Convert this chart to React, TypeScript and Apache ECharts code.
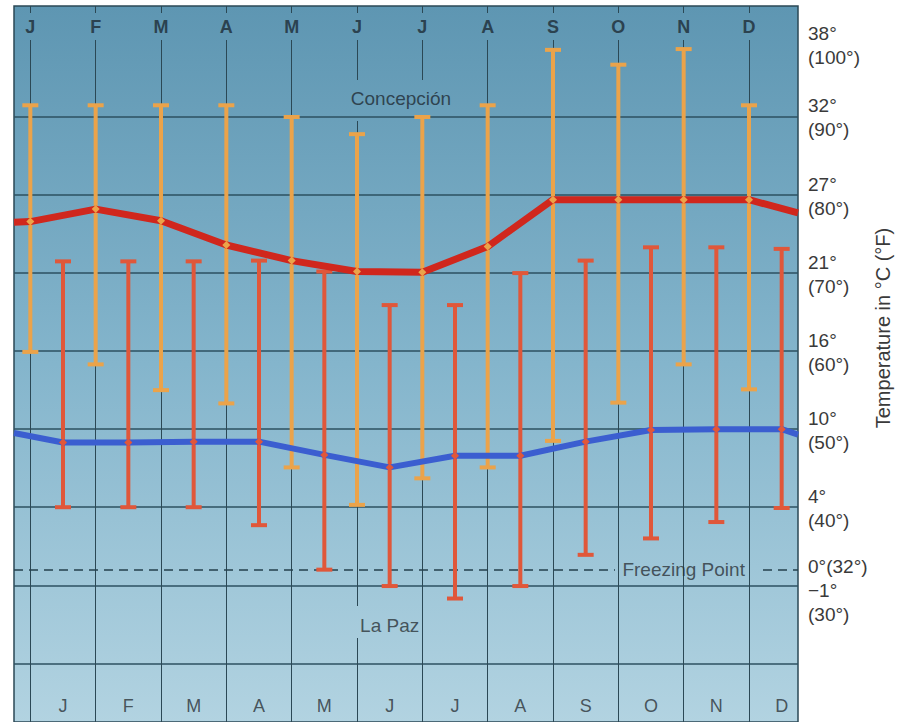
import React, { useEffect, useRef } from 'react';
import * as echarts from 'echarts';

// ---- data (temperatures in °F) ----
const months = ['J', 'F', 'M', 'A', 'M', 'J', 'J', 'A', 'S', 'O', 'N', 'D'];

const concHigh = [91.5, 91.5, 91.5, 91.5, 90.0, 87.8, 90.0, 91.5, 98.6, 96.7, 98.7, 91.5];
const concMean = [76.6, 78.2, 76.7, 73.6, 71.6, 70.2, 70.1, 73.4, 79.4, 79.4, 79.4, 79.4];
const concLow = [59.9, 58.3, 55.0, 53.3, 45.1, 40.3, 43.7, 45.1, 48.5, 53.4, 58.3, 55.1];
const concEdge = [76.5, 77.7]; // mean line at the left / right border

const lapazHigh = [71.5, 71.5, 71.5, 71.6, 70.2, 65.9, 65.9, 70.0, 71.6, 73.3, 73.3, 73.1];
const lapazMean = [48.3, 48.3, 48.4, 48.4, 46.7, 45.1, 46.6, 46.6, 48.4, 49.9, 50.0, 50.0];
const lapazLow = [40.0, 40.0, 40.0, 37.7, 32.0, 29.9, 28.3, 29.9, 33.9, 36.0, 38.1, 39.9];
const lapazEdge = [49.5, 49.3];

const tickF = [100, 90, 80, 70, 60, 50, 40, 30, 20];
const tickLabels = ['38°\n(100°)', '32°\n(90°)', '27°\n(80°)', '21°\n(70°)', '16°\n(60°)', '10°\n(50°)', '4°\n(40°)', '−1°\n(30°)', ''];
const freezingF = 32;
const freezingTick = '0°(32°)';

// ---- layout ----
const W = 897;
const H = 722;
const G_LEFT = 14;
const G_RIGHT = 99;
const G_TOP = 6;
const G_BOTTOM = 0;
const PLOT_H = H - G_TOP - G_BOTTOM;
const PLOT_W = W - G_LEFT - G_RIGHT;
const Y_MIN = 12.48;
const Y_MAX = 104.22;
const FONT = '"Liberation Sans", Arial, Helvetica, sans-serif';

const pxToF = (py: number) => Y_MAX - ((py - G_TOP) / PLOT_H) * (Y_MAX - Y_MIN);
const pxToX = (px: number) => ((px - G_LEFT) / PLOT_W) * 12;
const concX = (i: number) => i + 0.25;
const lapazX = (i: number) => i + 0.75;

const bgStops: [number, number[]][] = [
  [0, [94, 150, 178]],
  [0.5, [132, 181, 204]],
  [1, [178, 211, 225]],
];

const GRID_H = '#2c5061';
const GRID_V = '#2b4855';
const ORANGE = '#EBA34A';
const LAPAZ_RED = '#E0573A';
const MEAN_RED = '#D0271D';
const MEAN_BLUE = '#3B5ED0';

const makeBars = (color: string, lw: number, capW: number) => (params: any, api: any) => {
  const x = api.value(0);
  const lo = api.value(1);
  const hi = api.value(2);
  const t = api.coord([x, hi]);
  const b = api.coord([x, lo]);
  return {
    type: 'group',
    children: [
      { type: 'line', shape: { x1: t[0], y1: t[1], x2: b[0], y2: b[1] }, style: { stroke: color, lineWidth: lw } },
      { type: 'line', shape: { x1: t[0] - capW / 2, y1: t[1], x2: t[0] + capW / 2, y2: t[1] }, style: { stroke: color, lineWidth: 4 } },
      { type: 'line', shape: { x1: b[0] - capW / 2, y1: b[1], x2: b[0] + capW / 2, y2: b[1] }, style: { stroke: color, lineWidth: 4 } },
    ],
  };
};

export default function App() {
  const ref = useRef<HTMLDivElement>(null);
  useEffect(() => {
    const chart = echarts.init(ref.current!, null, { renderer: 'svg' });

    const tickLabelStyle = {
      show: true,
      position: 'end',
      distance: 10,
      fontFamily: FONT,
      fontSize: 19,
      lineHeight: 24,
      color: '#3a3a3a',
      align: 'left',
      verticalAlign: 'middle',
    };

    const hLines = tickF.map((f, k) => ({
      yAxis: f,
      lineStyle: { color: f === 100 ? 'rgba(0,0,0,0)' : GRID_H, width: f === 100 ? 0 : 1.5, type: 'solid' },
      label: {
        ...tickLabelStyle,
        formatter: tickLabels[k] || ' ',
        offset: f === 100 ? [0, 7] : f === 30 ? [0, 17] : [0, 1],
      },
    }));

    // vertical grid lines, interrupted where a text label sits on them (gaps in px)
    const vGaps = (i: number): [number, number][] => {
      const gaps: [number, number][] = [[13, 40]];
      if (i === 5) gaps.push([80, 121], [606, 638]);
      if (i === 6) gaps.push([80, 118]);
      return gaps;
    };
    const vSegs: any[] = [];
    months.forEach((m, i) => {
      let start = G_TOP;
      const pieces: [number, number][] = [];
      vGaps(i).forEach(([a, b]) => {
        pieces.push([start, a]);
        start = b;
      });
      pieces.push([start, H - G_BOTTOM]);
      pieces.forEach(([a, b]) => {
        vSegs.push([
          { coord: [concX(i), pxToF(a)], lineStyle: { color: GRID_V, width: 1, type: 'solid' }, label: { show: false } },
          { coord: [concX(i), pxToF(b)] },
        ]);
      });
    });

    const dashStyle = { color: '#25404c', width: 1.5, type: [9, 6] };
    const freezeSegs = [
      [
        { coord: [0, freezingF], lineStyle: dashStyle, label: { show: false } },
        { coord: [pxToX(615), freezingF] },
      ],
      [
        { coord: [pxToX(763), freezingF], lineStyle: dashStyle, label: { show: false } },
        { coord: [12, freezingF] },
      ],
    ];
    const freezeLabel = {
      yAxis: freezingF,
      lineStyle: { color: 'rgba(0,0,0,0)', width: 0 },
      label: { ...tickLabelStyle, formatter: freezingTick, offset: [0, -3] },
    };

    const textItem = (x: number, y: number, text: string, extra: any) => ({
      value: [x, y],
      label: {
        show: true,
        position: 'inside',
        formatter: text,
        fontFamily: FONT,
        align: 'center',
        verticalAlign: 'middle',
        ...extra,
      },
    });

    const labelItems = [
      ...months.map((m, i) =>
        textItem(concX(i), pxToF(27), m, {
          fontSize: 18,
          fontWeight: 'bold',
          color: '#1d2b35',
        })
      ),
      ...months.map((m, i) =>
        textItem(lapazX(i), pxToF(706), m, {
          fontSize: 18,
          color: '#2b3338',
        })
      ),
      textItem(pxToX(401), pxToF(98), 'Concepción', {
        fontSize: 19,
        color: '#1f2c34',
      }),
      textItem(lapazX(5), pxToF(625), 'La Paz', {
        fontSize: 19,
        color: '#2b3338',
      }),
      textItem(concX(10), freezingF, 'Freezing Point', {
        fontSize: 19,
        color: '#2b3338',
      }),
    ];

    const meanData = (edge: number[], mean: number[], xf: (i: number) => number) => [
      { value: [0, edge[0]], symbol: 'none' },
      ...mean.map((v, i) => ({ value: [xf(i), v] })),
      { value: [12, edge[1]], symbol: 'none' },
    ];

    const option: any = {
      animation: false,
      backgroundColor: '#ffffff',
      grid: {
        show: true,
        left: G_LEFT,
        right: G_RIGHT,
        top: G_TOP,
        bottom: G_BOTTOM,
        containLabel: false,
        outerBoundsMode: 'none',
        backgroundColor: new echarts.graphic.LinearGradient(0, 0, 0, 1, bgStops.map(([o, c]) => ({
          offset: o,
          color: `rgb(${c[0]},${c[1]},${c[2]})`,
        }))),
        borderColor: '#2b4855',
        borderWidth: 1.5,
      },
      xAxis: { type: 'value', min: 0, max: 12, show: false },
      yAxis: { type: 'value', min: Y_MIN, max: Y_MAX, show: false },
      series: [
        {
          type: 'line',
          data: [],
          z: 1,
          silent: true,
          markLine: {
            silent: true,
            z: 1,
            symbol: 'none',
            animation: false,
            data: [...hLines, ...vSegs, ...freezeSegs, freezeLabel],
          },
        },
        {
          name: 'Concepción range',
          type: 'custom',
          z: 6,
          renderItem: makeBars(ORANGE, 4, 16),
          encode: { x: 0, y: [1, 2] },
          data: months.map((m, i) => [concX(i), concLow[i], concHigh[i]]),
        },
        {
          name: 'La Paz range',
          type: 'custom',
          z: 6,
          renderItem: makeBars(LAPAZ_RED, 4, 16),
          encode: { x: 0, y: [1, 2] },
          data: months.map((m, i) => [lapazX(i), lapazLow[i], lapazHigh[i]]),
        },
        {
          name: 'Concepción mean',
          type: 'line',
          z: 7,
          symbol: 'diamond',
          symbolSize: 8,
          showAllSymbol: true,
          itemStyle: { color: ORANGE },
          lineStyle: { color: MEAN_RED, width: 7 },
          data: meanData(concEdge, concMean, concX),
        },
        {
          name: 'La Paz mean',
          type: 'line',
          z: 7,
          symbol: 'diamond',
          symbolSize: 8,
          showAllSymbol: true,
          itemStyle: { color: LAPAZ_RED },
          lineStyle: { color: MEAN_BLUE, width: 6 },
          data: meanData(lapazEdge, lapazMean, lapazX),
        },
        {
          type: 'scatter',
          z: 10,
          silent: true,
          symbolSize: 0,
          itemStyle: { color: 'transparent' },
          data: labelItems,
        },
      ],
      graphic: [
        {
          type: 'text',
          x: 883,
          y: 328,
          rotation: Math.PI / 2,
          style: {
            text: 'Temperature in °C (°F)',
            fontFamily: FONT,
            fontSize: 20,
            fill: '#3a3a3a',
            align: 'center',
            verticalAlign: 'middle',
          },
        },
      ],
    };

    chart.setOption(option);
    return () => chart.dispose();
  }, []);

  return (
    <div
      ref={ref}
      style={{ position: 'fixed', left: 0, top: 0, width: W, height: H, background: '#fff' }}
    />
  );
}
